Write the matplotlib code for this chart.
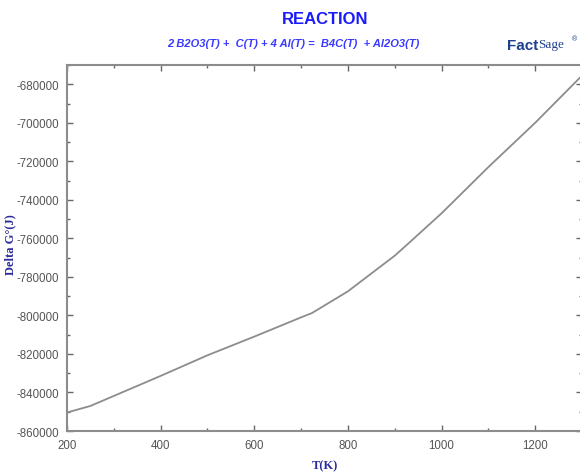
import numpy as np
import matplotlib
matplotlib.use("Agg")
import matplotlib.pyplot as plt
from matplotlib.ticker import MultipleLocator

# Delta G of reaction vs temperature
temp_k = [200, 250, 300, 400, 500, 600, 700, 723, 800, 900, 933, 1000, 1100, 1200, 1300]
delta_g = [-850400, -847000, -841800, -831400, -820700, -811000, -801000, -798800,
           -787500, -769000, -761800, -747000, -723000, -700000, -675500]

title = "REACTION"
subtitle = "2 B2O3(T) +  C(T) + 4 Al(T) =  B4C(T)  + Al2O3(T)"

plt.rcParams["font.family"] = ["Liberation Sans", "DejaVu Sans"]

fig = plt.figure(figsize=(5.8, 4.77), dpi=100)
ax = fig.add_axes([67 / 580, 1 - 432 / 477, 515 / 580, 366 / 477])

ax.plot(temp_k, delta_g, color="#8c8c8c", lw=1.3)

ax.set_xlim(200, 1300)
ax.set_ylim(-860000, -670000)
ax.xaxis.set_major_locator(MultipleLocator(200))
ax.xaxis.set_minor_locator(MultipleLocator(100))
ax.yaxis.set_major_locator(MultipleLocator(20000))
ax.yaxis.set_minor_locator(MultipleLocator(10000))

gray = "#8c8c8c"
for s in ax.spines.values():
    s.set_color(gray)
    s.set_linewidth(1.5)
ax.tick_params(which="both", direction="in", top=True, right=True, color="#666666")
ax.tick_params(which="major", length=4, width=1, labelsize=8.3, labelcolor="#555555", pad=6)
ax.tick_params(which="minor", length=2, width=1)
ax.yaxis.set_major_formatter(matplotlib.ticker.FuncFormatter(lambda v, p: f"{v:.0f}"))
ax.set_yticks(np.arange(-860000, -670000 + 1, 20000))

# labels
fig.text(10 / 580, 1 - 245 / 477, "Delta G°(J)", rotation=90, ha="center", va="center",
         family=["Liberation Serif", "DejaVu Serif"], fontweight="bold", fontsize=9,
         color="#2b2b9c")
fig.text(325 / 580, 1 - 466 / 477, "T(K)", ha="center", va="center",
         family=["Liberation Serif", "DejaVu Serif"], fontweight="bold", fontsize=9,
         color="#2b2b9c")

fig.text(325 / 580, 1 - 20 / 477, title, ha="center", va="center",
         fontweight="bold", fontsize=12, color="#1a1aff")
fig.text(293 / 580, 1 - 44 / 477, subtitle, ha="center", va="center",
         fontstyle="italic", fontweight="bold", fontsize=8, color="#3a3aff")

# FactSage logo as text
fig.text(507 / 580, 1 - 46 / 477, "Fact", ha="left", va="center",
         fontweight="bold", fontsize=11, color="#1f3f8f")
fig.text(538 / 580, 1 - 45 / 477, "Sage", ha="left", va="center",
         family=["Liberation Serif", "DejaVu Serif"], fontsize=9.5, color="#1f3f8f")
fig.text(572 / 580, 1 - 40 / 477, "®", ha="left", va="center", fontsize=5, color="#1f3f8f")

fig.savefig("out.png", dpi=100)
